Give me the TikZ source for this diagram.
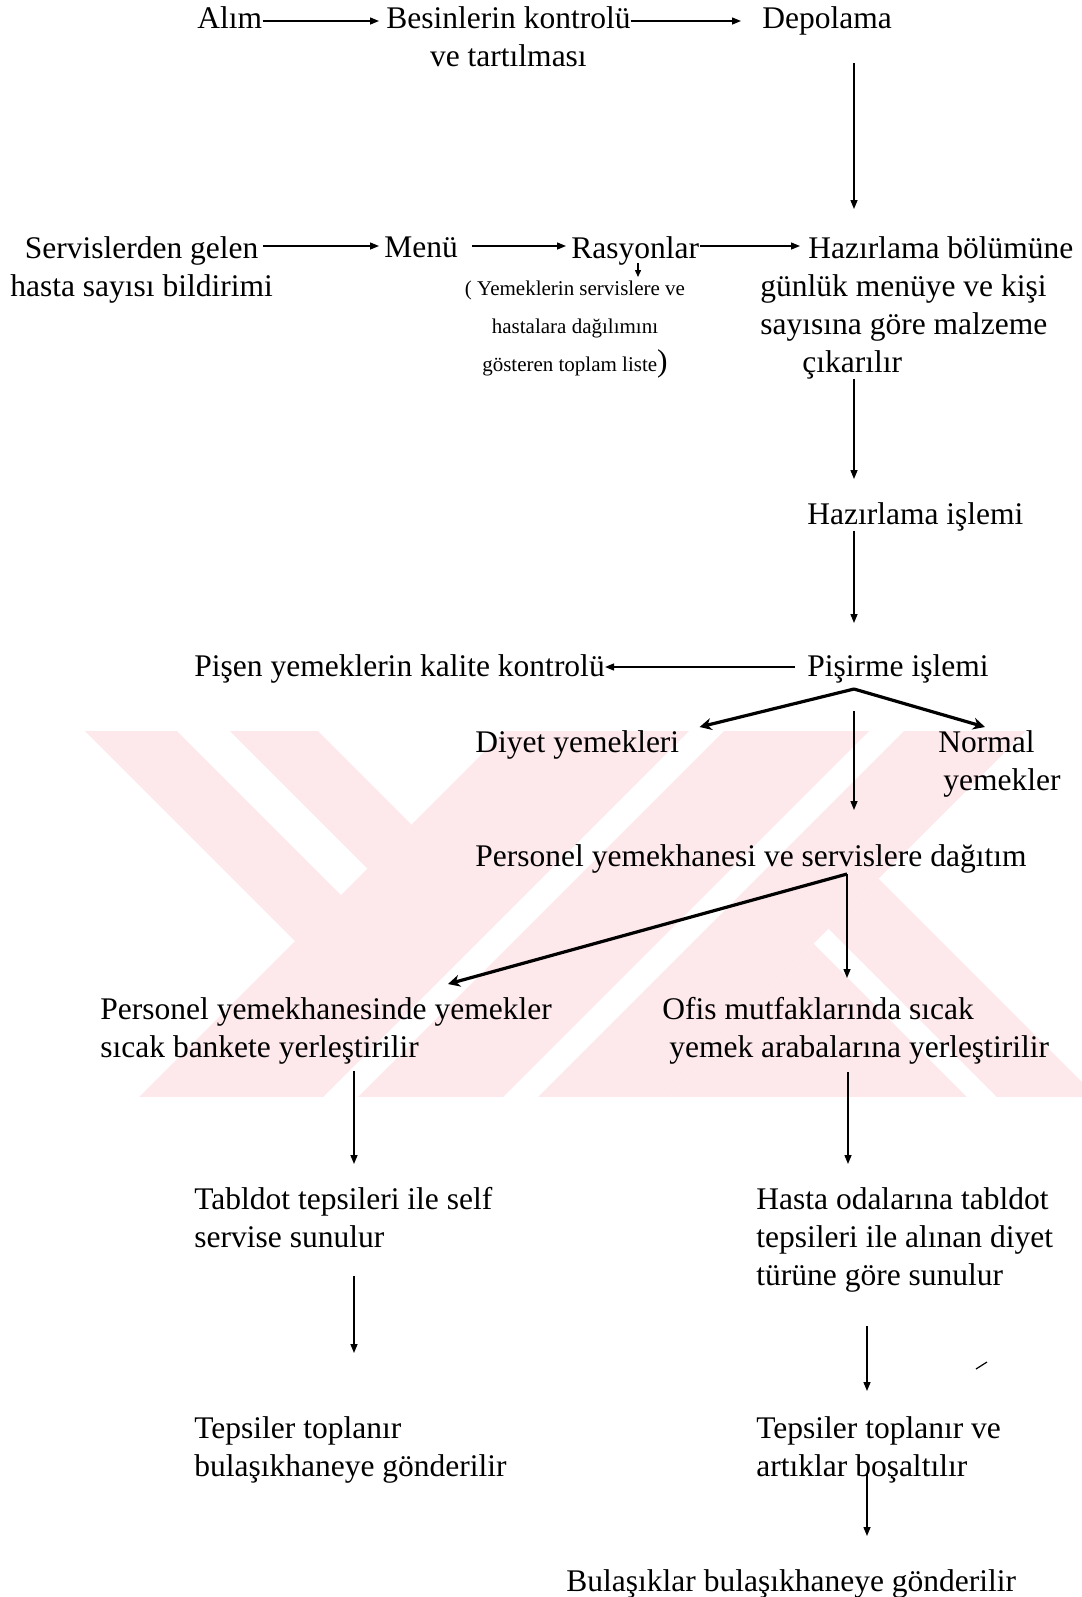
\documentclass[tikz,border=0pt]{standalone}
\usepackage{fontspec}
\setmainfont{Liberation Serif}
\usetikzlibrary{arrows.meta}
\definecolor{wmpink}{RGB}{253,232,236}
\begin{document}
\begin{tikzpicture}[x=0.5pt, y=-0.5pt,
    font=\fontsize{15.75}{19}\selectfont,
    lbl/.style={anchor=north west, inner sep=0pt, align=left},
    note/.style={anchor=north, inner sep=0pt, align=center, font=\fontsize{10.5}{19}\selectfont},
    arr/.style={line width=0.7pt, -{Triangle[length=4.5pt, width=3.5pt]}},
    thickarr/.style={line width=1.6pt, -{Stealth[length=6pt, width=6pt]}}]
  \useasboundingbox (0,0) rectangle (1082,1597);
  \begin{scope}
    \clip (85,731) rectangle (1082,1096);
    \fill[wmpink] (54,700) -- (146,700) -- (341,895) -- (295,941) -- cycle;
    \fill[wmpink] (199,700) -- (287,700) -- (411.5,824.5) -- (367.5,868.5) -- cycle;
    \fill[wmpink] (536,700) -- (720,700) -- (300,1120) -- (116,1120) -- cycle;
    \fill[wmpink] (755,700) -- (900,700) -- (480,1120) -- (335,1120) -- cycle;
    \fill[wmpink] (935,700) -- (1057,700) -- (637,1120) -- (515,1120) -- cycle;
    \fill[wmpink] (658.5,1098.5) -- (813.5,943.5) -- (990,1120) -- (680,1120) -- cycle;
    \fill[wmpink] (828.5,928.5) -- (878.5,878.5) -- (1120,1120) -- (1020,1120) -- cycle;
  \end{scope}

  \node[lbl] (alim) at (197,6) {Alım};
  \node[lbl, align=center] (kontrol) at (386,6) {Besinlerin kontrolü\\ve tartılması};
  \node[lbl] (depo) at (762,6) {Depolama};
  \node[lbl, align=center] (servis) at (10,236) {Servislerden gelen\\hasta sayısı bildirimi};
  \node[lbl] (menu) at (384,236) {Menü};
  \node[lbl] (rasyon) at (571,236) {Rasyonlar};
  \node[note] (liste) at (575,281) {( Yemeklerin servislere ve\\hastalara dağılımını\\gösteren toplam liste{\fontsize{15.75}{19}\selectfont)}};
  \node[lbl] (hazir) at (760,236) {\hspace*{24pt}Hazırlama bölümüne\\günlük menüye ve kişi\\sayısına göre malzeme\\\hspace*{21pt}çıkarılır};
  \node[lbl] (hislem) at (807,502) {Hazırlama işlemi};
  \node[lbl] (kalite) at (194,654) {Pişen yemeklerin kalite kontrolü};
  \node[lbl] (pisirme) at (807,654) {Pişirme işlemi};
  \node[lbl] (diyet) at (475,730) {Diyet yemekleri};
  \node[lbl] (normal) at (938,730) {Normal\\\hspace*{2.5pt}yemekler};
  \node[lbl] (dagitim) at (475,844) {Personel yemekhanesi ve servislere dağıtım};
  \node[lbl] (banket) at (100,997) {Personel yemekhanesinde yemekler\\sıcak bankete yerleştirilir};
  \node[lbl] (ofis) at (662,997) {Ofis mutfaklarında sıcak\\\hspace*{3.5pt}yemek arabalarına yerleştirilir};
  \node[lbl] (selfsrv) at (194,1187) {Tabldot tepsileri ile self\\servise sunulur};
  \node[lbl] (oda) at (756,1187) {Hasta odalarına tabldot\\tepsileri ile alınan diyet\\türüne göre sunulur};
  \node[lbl] (toplasol) at (194,1416) {Tepsiler toplanır\\bulaşıkhaneye gönderilir};
  \node[lbl] (toplasag) at (756,1416) {Tepsiler toplanır ve\\artıklar boşaltılır};
  \node[lbl] (bulasik) at (566,1569) {Bulaşıklar bulaşıkhaneye gönderilir};

  \coordinate (row1) at (0,21);
  \coordinate (row2) at (0,246);
  \coordinate (row3) at (0,667);
  \coordinate (colR) at (638,0);
  \coordinate (colA) at (854,0);
  \coordinate (colB) at (848,0);
  \coordinate (colC) at (867,0);
  \coordinate (colL) at (354,0);
  \coordinate (roof) at (854,689);
  \coordinate (split) at (847,874);

  \draw[arr, shorten >=3.5pt] (alim.east |- row1) -- (kontrol.west |- row1);
  \draw[arr, shorten >=10.5pt] (kontrol.east |- row1) -- (depo.west |- row1);
  \draw[arr, shorten <=-5.25pt, shorten >=2.5pt] (servis.east |- row2) -- (menu.west |- row2);
  \draw[arr, shorten <=6.75pt, shorten >=2.5pt] (menu.east |- row2) -- (rasyon.west |- row2);
  \draw[arr] (rasyon.east |- row2) -- ([xshift=20pt]hazir.west |- row2);
  \draw[line width=0.7pt, -{Triangle[length=3.5pt, width=3pt]}, shorten <=-1pt, shorten >=2pt] (rasyon.south -| colR) -- (liste.north -| colR);
  \draw[arr, shorten <=14pt, shorten >=13.5pt] (depo.south -| colA) -- (hazir.north -| colA);
  \draw[arr, shorten >=11.5pt] (hazir.south -| colA) -- (hislem.north -| colA);
  \draw[arr, shorten >=15.5pt] (hislem.south -| colA) -- (pisirme.north -| colA);
  \draw[arr, shorten <=6pt] (pisirme.west |- row3) -- (kalite.east |- row3);
  \draw[thickarr] (roof) -- ([shift={(20,-3)}]diyet.north east);
  \draw[thickarr] (roof) -- ([shift={(47,-3)}]normal.north west);
  \draw[arr, shorten <=14pt, shorten >=17pt] (pisirme.south -| colA) -- (dagitim.north -| colA);
  \draw[thickarr] (split) -- ([shift={(348,-13)}]banket.north west);
  \draw[arr, shorten >=9.5pt] (split) -- (ofis.north -| split);
  \draw[arr, shorten <=3.5pt, shorten >=11.5pt] (banket.south -| colL) -- (selfsrv.north -| colL);
  \draw[arr, shorten <=3.5pt, shorten >=11.5pt] (ofis.south -| colB) -- (oda.north -| colB);
  \draw[arr, shorten <=13.75pt, shorten >=31.5pt] (selfsrv.south -| colL) -- (toplasol.north -| colL);
  \draw[arr, shorten <=16.85pt, shorten >=12.5pt] (oda.south -| colC) -- (toplasag.north -| colC);
  \draw[arr, shorten <=-5pt, shorten >=16.5pt] (toplasag.south -| colC) -- (bulasik.north -| colC);
  \draw[line width=0.6pt] (976,1369) -- (987,1362);
\end{tikzpicture}
\end{document}
